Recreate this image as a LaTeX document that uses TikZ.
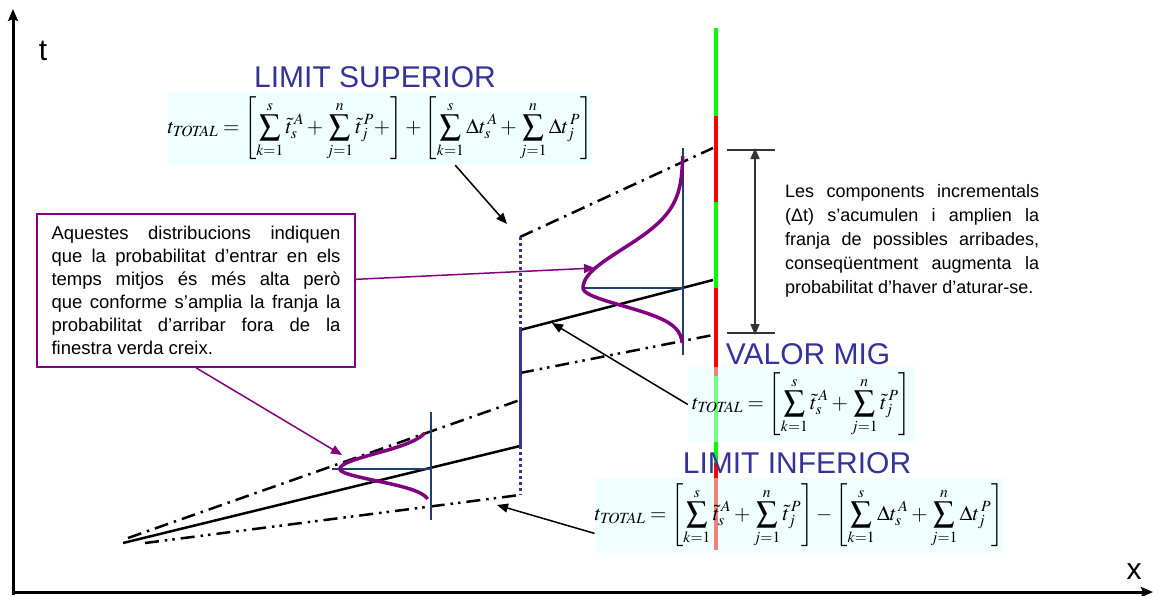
\documentclass[tikz,border=0pt]{standalone}
\usepackage{mathptmx}
\usepackage[no-math]{fontspec}
\setmainfont{Liberation Sans}
\usetikzlibrary{arrows.meta,positioning}
\definecolor{titleblue}{RGB}{51,51,153}
\definecolor{notepurple}{RGB}{128,0,128}
\definecolor{distnavy}{RGB}{31,63,111}
\definecolor{boxcyan}{RGB}{224,255,255}
\definecolor{bargreen}{RGB}{0,255,0}
\definecolor{barred}{RGB}{255,0,0}
\definecolor{spangray}{RGB}{51,51,51}

\tikzset{
  limtitle/.style={text=titleblue, font=\fontsize{30}{32}\selectfont, anchor=base, inner sep=0pt},
  formbox/.style={fill=boxcyan, fill opacity=0.5, text opacity=1, inner sep=0pt,
    font=\fontsize{21}{25}\selectfont},
  boundup/.style={line width=2.5pt, dash pattern=on 14pt off 6pt on 2.5pt off 6pt},
  bounddown/.style={line width=2.5pt, dash pattern=on 14pt off 6pt on 2.5pt off 5pt on 2.5pt off 6pt},
  meanline/.style={line width=2.5pt},
  jump/.style={draw=titleblue, line width=3pt},
  bar/.style={line width=4.5pt},
  gauss/.style={draw=notepurple, line width=3.5pt, smooth, samples=40},
  distaxis/.style={draw=distnavy, line width=1.8pt},
  pointer/.style={line width=1.5pt, -{Triangle[length=11pt,width=9pt]}},
}

\begin{document}
\begin{tikzpicture}[x=1pt, y=-1pt]
  \useasboundingbox (0,0) rectangle (1153,595);

  % axes
  \coordinate (origin) at (13,592);
  \coordinate (tEnd) at (13,9);
  \coordinate (xEnd) at (1153,592);
  \draw[line width=3pt, -{Stealth[length=12pt,width=10pt,inset=2pt]}] ([yshift=-3pt]origin) -- (tEnd);
  \draw[line width=3pt, -{Stealth[length=12pt,width=10pt,inset=2pt]}] ([xshift=-1.5pt]origin) -- (xEnd);
  \node[font=\fontsize{30}{32}\selectfont, inner sep=0pt] (tLabel) at (43,51) {t};
  \node[font=\fontsize{30}{32}\selectfont, inner sep=0pt] (xLabel) at (1134,572) {x};

  % green / red window bar
  \draw[bar, bargreen] (716,28) -- (716,116);
  \draw[bar, barred] (716,116) -- (716,202);
  \draw[bar, bargreen] (716,202) -- (716,288);
  \draw[bar, barred] (716,288) -- (716,376);
  \draw[bar, bargreen] (716,376) -- (716,463);
  \draw[bar, barred] (716,463) -- (716,550);

  % arrival times
  \coordinate (meanA) at (123,543);
  \coordinate (meanB) at (520,446);
  \coordinate (meanC) at (520,330);
  \coordinate (meanD) at (713,280);
  \coordinate (supA) at (128,538);
  \coordinate (supB) at (520,400);
  \coordinate (supC) at (520,237);
  \coordinate (supD) at (713,148);
  \coordinate (infA) at (145,543);
  \coordinate (infB) at (520,495);
  \coordinate (infC) at (520,373);
  \coordinate (infD) at (713,335);
  \draw[meanline] (meanA) -- (meanB);
  \draw[meanline] (meanC) -- (meanD);
  \draw[boundup] (supA) -- (supB);
  \draw[boundup] (supC) -- (supD);
  \draw[bounddown] (infA) -- (infB);
  \draw[bounddown] (infC) -- (infD);
  \draw[jump, dash pattern=on 3pt off 3pt] (supC) -- (meanC);
  \draw[jump] (meanC) -- (meanB);
  \draw[jump, dash pattern=on 3pt off 3pt] (meanB) -- (infB);

  % distributions
  \draw[distaxis] (431,412) -- (431,520);
  \draw[distaxis] (332,469) -- (431,469);
  \draw[gauss] plot[domain=36:0] ({431-91*exp(-(\x/22)^2)},{469-\x})
    -- plot[domain=0:30] ({431-91*exp(-(\x/16.5)^2)},{469+\x});
  \draw[distaxis] (683,148) -- (683,355);
  \draw[distaxis] (585,288) -- (683,288);
  \draw[gauss] plot[domain=132:0] ({683-100*exp(-(\x/55)^2)},{288-\x})
    -- plot[domain=0:55] ({683-100*exp(-(\x/25)^2)},{288+\x});

  % spread of the window
  \coordinate (spanTop) at (755,150);
  \coordinate (spanBot) at (755,333);
  \draw[spangray, line width=1.5pt] ([xshift=-28pt]spanTop) -- ([xshift=20pt]spanTop);
  \draw[spangray, line width=1.5pt] ([xshift=-28pt]spanBot) -- ([xshift=20pt]spanBot);
  \draw[spangray, line width=1.5pt, {Triangle[length=11pt,width=9pt]}-{Triangle[length=11pt,width=9pt]}]
    ([yshift=2pt]spanTop) -- ([yshift=-2pt]spanBot);

  % formulas
  \node[limtitle] (supTitle) at (375,87) {LIMIT SUPERIOR};
  \node[formbox, minimum width=424pt, minimum height=73pt] (supBox) at (380,128.5)
    {$\displaystyle t_{\mathit{TOTAL}}=\left[\sum_{k=1}^{s}\tilde{t}_s^{\,A}+\sum_{j=1}^{n}\tilde{t}_j^{\,P}+\right]+\left[\sum_{k=1}^{s}\Delta t_s^{\,A}+\sum_{j=1}^{n}\Delta t_j^{\,P}\right]$};
  \node[limtitle] (valTitle) at (808,364) {VALOR MIG};
  \node[formbox, minimum width=227pt, minimum height=75pt] (valBox) at (801.5,404.5)
    {$\displaystyle t_{\mathit{TOTAL}}=\left[\sum_{k=1}^{s}\tilde{t}_s^{\,A}+\sum_{j=1}^{n}\tilde{t}_j^{\,P}\right]$};
  \node[limtitle] (infTitle) at (797,473) {LIMIT INFERIOR};
  \node[formbox, minimum width=408pt, minimum height=75pt] (infBox) at (799,515.5)
    {$\displaystyle t_{\mathit{TOTAL}}=\left[\sum_{k=1}^{s}\tilde{t}_s^{\,A}+\sum_{j=1}^{n}\tilde{t}_j^{\,P}\right]-\left[\sum_{k=1}^{s}\Delta t_s^{\,A}+\sum_{j=1}^{n}\Delta t_j^{\,P}\right]$};

  % notes
  \node[draw=notepurple, line width=1.5pt, minimum width=318pt, minimum height=153pt,
    inner xsep=14.5pt, text width=289pt, align=justify,
    font=\fontsize{18.5}{23}\selectfont] (noteBox) at (196,290.5)
    {Aquestes distribucions indiquen\linebreak que la probabilitat d’entrar en els\linebreak temps mitjos és més alta però\linebreak que conforme s’amplia la franja la\linebreak probabilitat d’arribar fora de la\linebreak finestra verda creix.};
  \node[anchor=north west, inner sep=0pt, text width=254pt, align=justify,
    font=\fontsize{18}{24}\selectfont] (spanNote) at (785,184)
    {Les components incrementals\linebreak (Δt) s’acumulen i amplien la\linebreak franja de possibles arribades,\linebreak conseqüentment augmenta la\linebreak probabilitat d’haver d’aturar-se.};

  % pointers
  \coordinate (bigDist) at (595,268);
  \coordinate (smallDist) at (342,455);
  \coordinate (supTip) at (507,224);
  \coordinate (meanTip) at (552,323);
  \coordinate (infTip) at (497,505);
  \draw[pointer, notepurple] (noteBox.4) -- (bigDist);
  \draw[pointer, notepurple] (noteBox.south) -- (smallDist);
  \draw[pointer] (supBox.-26) -- (supTip);
  \draw[pointer] (valBox.west) -- (meanTip);
  \draw[pointer] (infBox.185) -- (infTip);
\end{tikzpicture}
\end{document}
